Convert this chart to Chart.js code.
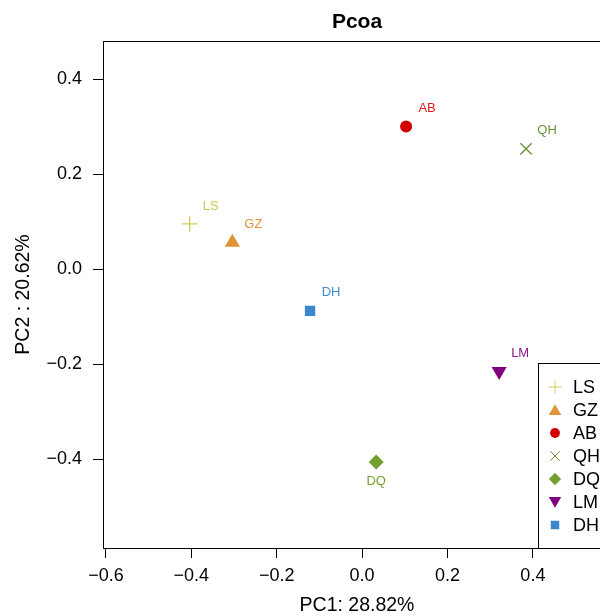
<!DOCTYPE html>
<html><head><meta charset="utf-8">
<script src="https://cdn.jsdelivr.net/npm/chart.js@4.4.0/dist/chart.umd.min.js"></script>
<style>
html,body{margin:0;padding:0;background:#fff;overflow:hidden;}
#wrap{width:600px;height:616px;overflow:hidden;position:relative;background:#fff;}
canvas{display:block;}
</style></head><body>
<div id="wrap"><canvas id="c" width="640" height="616" style="width:640px;height:616px"></canvas></div>
<script>
const groups = ['LS','GZ','AB','QH','DQ','LM','DH'];
const pc1 = [-0.404, -0.304, 0.103, 0.384, 0.033, 0.321, -0.122];
const pc2 = [0.095, 0.056, 0.300, 0.253, -0.406, -0.215, -0.088];
const pointColors = ['#CDCD5A', '#DF9438', '#D20000', '#6B8E3A', '#72A02E', '#800080', '#3A87CB'];
const labelColors = ['#C8C850', '#E0953C', '#E0191C', '#6E9040', '#74A030', '#8B1A8B', '#3F8BD0'];
const markers = ['cross', 'triangle', 'circle', 'crossRot', 'rectRot', 'triangle', 'rect'];
const rotations = [0, 0, 0, 0, 0, 180, 0];
const sizes = [7.8, 8.8, 6, 8, 7.5, 8.7, 7.3];
const xTicks = [-0.6, -0.4, -0.2, 0.0, 0.2, 0.4];
const yTicks = [-0.4, -0.2, 0.0, 0.2, 0.4];
const titleText = 'Pcoa';
const xTitle = 'PC1: 28.82%';
const yTitle = 'PC2 : 20.62%';

const FONT = '"Liberation Sans", Arial, Helvetica, sans-serif';
const fmt = v => (v < -1e-9 ? '\u2212' : '') + Math.abs(v).toFixed(1);
const isStroke = s => s === 'cross' || s === 'crossRot';

const datasets = groups.map((g, i) => ({
  label: g,
  data: [{x: pc1[i], y: pc2[i]}],
  pointStyle: markers[i],
  rotation: rotations[i],
  radius: sizes[i],
  hoverRadius: sizes[i],
  backgroundColor: pointColors[i],
  borderColor: pointColors[i],
  borderWidth: isStroke(markers[i]) ? 1.3 : 0
}));

const decor = {
  id: 'decor',
  beforeDraw(chart) {
    const ctx = chart.ctx;
    ctx.save();
    ctx.fillStyle = '#fff';
    ctx.fillRect(0, 0, chart.width, chart.height);
    ctx.restore();
  },
  afterDatasetsDraw(chart) {
    const ctx = chart.ctx, a = chart.chartArea;
    const xs = chart.scales.x, ys = chart.scales.y;
    ctx.save();
    // box
    ctx.strokeStyle = '#000'; ctx.lineWidth = 1;
    ctx.strokeRect(Math.round(a.left) + 0.5, Math.round(a.top) + 0.5,
                   Math.round(a.right - a.left), Math.round(a.bottom - a.top));
    // point labels
    ctx.font = '13px ' + FONT;
    ctx.textAlign = 'center'; ctx.textBaseline = 'middle';
    const below = new Set(['DQ']);
    groups.forEach((g, i) => {
      const px = xs.getPixelForValue(pc1[i]), py = ys.getPixelForValue(pc2[i]);
      ctx.fillStyle = labelColors[i];
      if (below.has(g)) ctx.fillText(g, px, py + 19);
      else ctx.fillText(g, px + 21, py - 18);
    });
    // title
    const cx = (a.left + a.right) / 2;
    ctx.fillStyle = '#000';
    ctx.font = 'bold 21px ' + FONT;
    ctx.fillText(titleText, cx, 22);
    // axis titles
    ctx.font = '19.5px ' + FONT;
    ctx.fillText(xTitle, cx, 606);
    ctx.save();
    ctx.translate(24, (a.top + a.bottom) / 2);
    ctx.rotate(-Math.PI / 2);
    ctx.fillText(yTitle, 0, 0);
    ctx.restore();
    // legend
    const lx = 538.5, ly = 363.5, lb = Math.round(a.bottom) + 0.5;
    ctx.fillStyle = '#fff';
    ctx.fillRect(lx, ly, 200, lb - ly);
    ctx.strokeStyle = '#000';
    ctx.strokeRect(lx, ly, 200, lb - ly);
    ctx.font = '18px ' + FONT;
    ctx.textAlign = 'left';
    groups.forEach((g, i) => {
      const y = 387 + i * 23;
      const opts = {
        pointStyle: markers[i], rotation: rotations[i], radius: sizes[i] * 0.82,
        borderWidth: isStroke(markers[i]) ? 1.2 : 0
      };
      ctx.fillStyle = pointColors[i];
      ctx.strokeStyle = pointColors[i];
      Chart.helpers.drawPoint(ctx, opts, 555, y + (markers[i] === 'triangle' ? (rotations[i] ? -1.5 : 1.5) : 0));
      ctx.fillStyle = '#000';
      ctx.fillText(g, 573, y + 1);
    });
    ctx.restore();
  }
};

new Chart(document.getElementById('c'), {
  type: 'scatter',
  data: { datasets },
  options: {
    responsive: false,
    animation: false,
    devicePixelRatio: 1,
    layout: { padding: { left: 0, right: 29, top: 41, bottom: 0 } },
    plugins: { legend: { display: false }, title: { display: false }, tooltip: { enabled: false } },
    scales: {
      x: {
        type: 'linear', min: -0.607, max: 0.583,
        afterBuildTicks: s => { s.ticks = xTicks.map(v => ({ value: v })); },
        afterFit: s => { s.height = 68; },
        ticks: { color: '#000', font: { family: FONT, size: 18 }, padding: 7, maxRotation: 0, autoSkip: false, callback: v => fmt(v) },
        grid: { display: true, drawOnChartArea: false, drawTicks: true, tickLength: 10, color: '#000', tickColor: '#000', lineWidth: 1 },
        border: { display: false }
      },
      y: {
        type: 'linear', min: -0.587, max: 0.48,
        afterBuildTicks: s => { s.ticks = yTicks.map(v => ({ value: v })); },
        afterFit: s => { s.width = 103; },
        ticks: { color: '#000', font: { family: FONT, size: 18 }, padding: 11, autoSkip: false, callback: v => fmt(v) },
        grid: { display: true, drawOnChartArea: false, drawTicks: true, tickLength: 10, color: '#000', tickColor: '#000', lineWidth: 1 },
        border: { display: false }
      }
    }
  },
  plugins: [decor]
});
</script>
</body></html>
